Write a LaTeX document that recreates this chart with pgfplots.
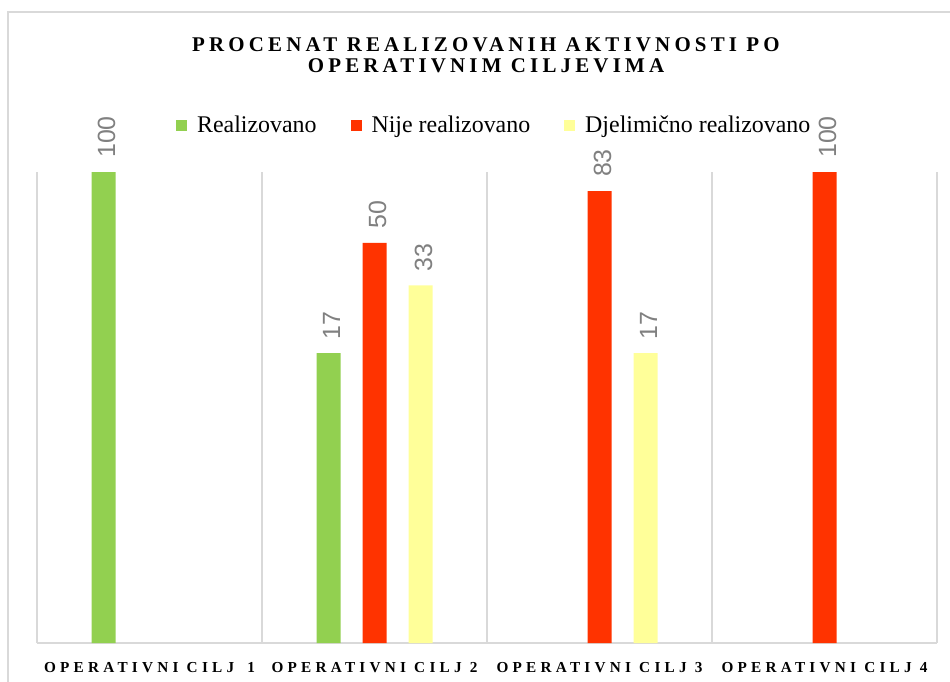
\documentclass[border=0pt]{standalone}
\usepackage{fontspec}
\setmainfont{Liberation Serif}
\setsansfont{Liberation Sans}
\newfontfamily\titlefont{Liberation Serif}[LetterSpace=20]
\newfontfamily\tickfont{Liberation Serif}[LetterSpace=28]
\usepackage{pgfplots}
\pgfplotsset{compat=1.18}
\definecolor{cgreen}{HTML}{92D050}
\definecolor{cred}{HTML}{FF3300}
\definecolor{cyellow}{HTML}{FFFF99}
\definecolor{cgrid}{HTML}{D9D9D9}
\definecolor{clabel}{HTML}{808080}
\begin{document}
\begin{tikzpicture}[x=1bp,y=1bp]
\path[use as bounding box] (0,0) rectangle (950,-682);
\draw[cgrid, line width=2bp] (8,-690) -- (8,-12.5) -- (960,-12.5);
\begin{axis}[
  at={(37bp,-643bp)}, anchor=south west,
  scale only axis, width=900bp, height=471bp,
  ymode=log, ymin=1, ymax=100,
  xmin=0.5, xmax=4.5,
  ybar=22bp, bar width=24bp,
  clip=false,
  axis x line*=bottom, axis y line=none,
  x axis line style={cgrid, line width=1.5bp},
  ytick=\empty,
  xtick={1,2,3,4},
  xticklabels={OPERATIVNI CILJ\hspace{5bp} 1, OPERATIVNI CILJ 2, OPERATIVNI CILJ 3, OPERATIVNI CILJ 4},
  xticklabel style={font=\tickfont\bfseries\fontsize{15.3}{15.3}\selectfont, inner sep=0pt, yshift=-19bp},
  minor xtick={0.5,1.5,2.5,3.5,4.5},
  xminorgrids=true,
  minor grid style={cgrid, line width=1.5bp},
  major tick length=0pt, minor tick length=0pt,
  point meta=explicit symbolic,
  nodes near coords={\pgfplotspointmeta},
  every node near coord/.append style={rotate=90, anchor=west, font=\sffamily\fontsize{25}{25}\selectfont, text=clabel, inner xsep=14bp, inner ysep=0pt, yshift=-3bp},
  legend style={draw=none, fill=none, at={(0.508,1.1)}, anchor=center, legend columns=3,
    font=\fontsize{24}{24}\selectfont,
    /tikz/every odd column/.append style={column sep=8bp},
    /tikz/every even column/.append style={column sep=32bp}},
  legend image code/.code={\fill[#1] (0bp,-6bp) rectangle (11bp,5bp);},
]
\addplot[fill=cgreen, draw=none] coordinates {(1,100) [100] (2,17) [17]};
\addlegendentry{Realizovano}
\addplot[fill=cred, draw=none] coordinates {(2,50) [50] (3,83) [83] (4,100) [100]};
\addlegendentry{Nije realizovano}
\addplot[fill=cyellow, draw=none] coordinates {(2,33) [33] (3,17) [17]};
\addlegendentry{Djelimično realizovano}
\end{axis}
\node[anchor=base, font=\titlefont\bfseries\fontsize{21}{21}\selectfont] at (486,-52) {PROCENAT REALIZOVANIH AKTIVNOSTI PO};
\node[anchor=base, font=\titlefont\bfseries\fontsize{21}{21}\selectfont] at (486,-73) {OPERATIVNIM CILJEVIMA};
\end{tikzpicture}
\end{document}
